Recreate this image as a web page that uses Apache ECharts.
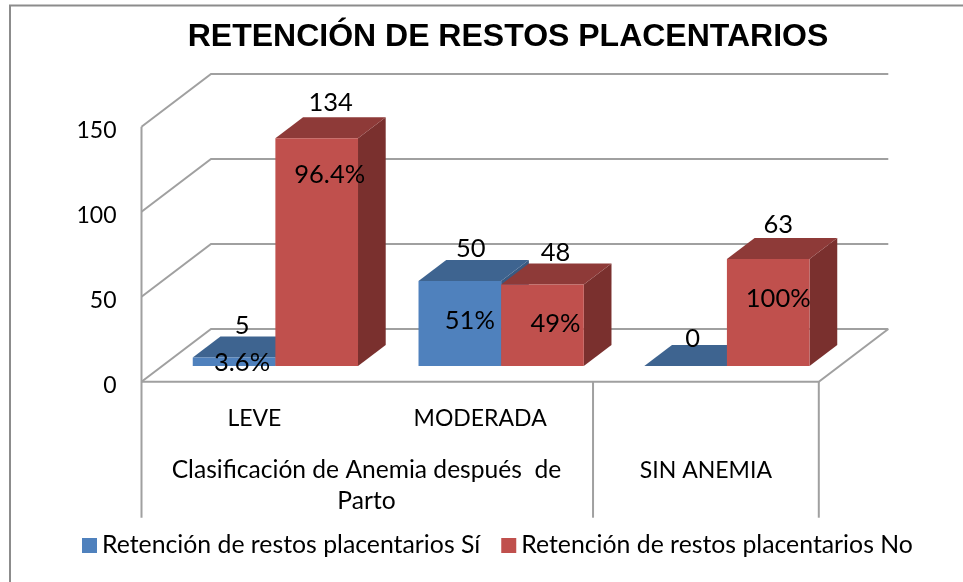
<!DOCTYPE html>
<html>
<head>
<meta charset="utf-8">
<style>html,body{margin:0;padding:0;background:#fff}#c{width:963px;height:582px}</style>
<script src="https://cdn.jsdelivr.net/npm/echarts@6/dist/echarts.min.js"></script>
</head>
<body>
<div id="c"></div>
<script>
const categories = ['LEVE', 'MODERADA', 'SIN ANEMIA'];
const groupLines = ['Clasificación de Anemia después  de', 'Parto'];
const yTicks = [0, 50, 100, 150];
const seriesSi = [5, 50, 0];
const seriesNo = [134, 48, 63];
const pctSi = ['3.6%', '51%', ''];
const pctNo = ['96.4%', '49%', '100%'];
const nameSi = 'Retención de restos placentarios Sí';
const nameNo = 'Retención de restos placentarios No';

const FONT = 'Lato';
const wallShift = [69.5, -52.7];
const barShift = [21, -15.7];
const depth = [27.7, -21];
const barRatio = 0.366;
const grey = '#a0a0a0';
// label nudges relative to the top-centre of each bar's front face
const valueNudgeSi = [[8, -32], [11, -32], [7, -27]];
const valueNudgeNo = [[14, -35], [13, -32], [10, -34]];
const pctNudgeSi = [[8, 5], [10, 40], [0, 0]];
const pctNudgeNo = [[13, 37], [13, 39], [10, 40]];

function poly(points, fill) {
  return { type: 'polygon', shape: { points }, style: { fill, stroke: null } };
}
function label(text, x, y) {
  return { type: 'text', z2: 50, style: { text, x, y, font: '25.5px ' + FONT, fill: '#000', align: 'center', verticalAlign: 'middle' } };
}
function barRenderer(side, colors, pct, valueNudge, pctNudge) {
  return function (params, api) {
    const i = api.value(0), v = api.value(1);
    const band = api.size([1, 0])[0];
    const w = band * barRatio;
    const base = api.coord([i, 0]);
    const top = api.coord([i, v]);
    const x0 = base[0] + barShift[0] + (side === 0 ? -w : 0);
    const x1 = x0 + w;
    const yB = base[1] + barShift[1];
    const yT = top[1] + barShift[1];
    const dx = depth[0], dy = depth[1];
    const cx = (x0 + x1) / 2;
    const children = [
      poly([[x1, yB], [x1 + dx, yB + dy], [x1 + dx, yT + dy], [x1, yT]], colors.side),
      poly([[x0, yT], [x1, yT], [x1 + dx, yT + dy], [x0 + dx, yT + dy]], colors.top),
      poly([[x0, yB], [x1, yB], [x1, yT], [x0, yT]], colors.front),
      label(String(v), cx + valueNudge[i][0], yT + valueNudge[i][1])
    ];
    if (pct[i]) children.push(label(pct[i], cx + pctNudge[i][0], yT + pctNudge[i][1]));
    return { type: 'group', children };
  };
}
function wallRenderer(params, api) {
  const band = api.size([1, 0])[0];
  const children = [];
  const line = (pts) => ({ type: 'polyline', shape: { points: pts }, style: { stroke: grey, lineWidth: 2, fill: null } });
  const left = api.coord([0, 0])[0] - band / 2;
  const right = api.coord([2, 0])[0] + band / 2;
  yTicks.forEach(t => {
    const y = api.coord([0, t])[1];
    children.push(line([[left, y], [left + wallShift[0], y + wallShift[1]], [right + wallShift[0], y + wallShift[1]]]));
  });
  const yTop = api.coord([0, yTicks[yTicks.length - 1]])[1];
  const y0 = api.coord([0, 0])[1];
  const yEnd = y0 + 136;
  const sep = left + band * 2;
  children.push(line([[left, yTop], [left, yEnd]]));
  children.push(line([[sep, y0], [sep, yEnd]]));
  children.push(line([[right, y0], [right, yEnd]]));
  children.push(line([[left, y0], [right, y0], [right + wallShift[0], y0 + wallShift[1]]]));
  groupLines.forEach((s, k) => {
    children.push({ type: 'text', style: { text: s, x: left + band - 0.8, y: y0 + 88.5 + k * 31, font: '24.6px ' + FONT, fill: '#000', align: 'center', verticalAlign: 'middle' } });
  });
  return { type: 'group', children };
}

const chart = echarts.init(document.getElementById('c'), null, { renderer: 'canvas' });
chart.setOption({
  animation: false,
  backgroundColor: '#fff',
  title: {
    text: 'RETENCIÓN DE RESTOS PLACENTARIOS',
    left: 503, top: 16, textAlign: 'center',
    textStyle: { fontFamily: 'Liberation Sans', fontWeight: 'bold', fontSize: 32, color: '#000' }
  },
  legend: {
    left: 77, top: 528,
    data: [{ name: nameSi, icon: 'rect' }, { name: nameNo, icon: 'rect' }],
    itemWidth: 15, itemHeight: 15, itemGap: 21,
    textStyle: { fontFamily: FONT, fontSize: 24.8, color: '#000' }
  },
  grid: { left: 141.5, top: 126.7, width: 677.3, height: 255 },
  xAxis: {
    type: 'category', data: categories,
    axisLine: { show: false }, axisTick: { show: false }, splitLine: { show: false },
    axisLabel: {
      interval: 0, margin: 25, fontFamily: FONT, fontSize: 23, color: '#000', verticalAlign: 'top',
      formatter: (v, i) => i === 2 ? '{s|' + v + '}' : v,
      rich: { s: { padding: [52, 0, 0, 0], fontFamily: FONT, fontSize: 23, color: '#000' } }
    }
  },
  yAxis: {
    type: 'value', min: 0, max: 150, interval: 50,
    axisLine: { show: false }, axisTick: { show: false }, splitLine: { show: false },
    axisLabel: {
      margin: 25, fontFamily: FONT, fontSize: 23, color: '#000',
      formatter: (v) => '{n|' + v + '}',
      rich: { n: { padding: [7, 0, 0, 0], fontFamily: FONT, fontSize: 23, color: '#000' } }
    }
  },
  graphic: [{
    type: 'polyline', silent: true,
    shape: { points: [[10, 582], [10, 5.5], [963, 5.5]] },
    style: { stroke: '#8c8c8c', lineWidth: 2, fill: null }
  }],
  series: [
    { type: 'custom', name: 'walls', z: 1, silent: true, renderItem: wallRenderer, data: [[0, 0]], encode: { x: 0, y: 1 } },
    {
      type: 'custom', name: nameSi, z: 2, itemStyle: { color: '#4f81bd' },
      renderItem: barRenderer(0, { front: '#4f81bd', top: '#3e6490', side: '#385a82' }, pctSi, valueNudgeSi, pctNudgeSi),
      data: seriesSi.map((v, i) => [i, v]), encode: { x: 0, y: 1 }
    },
    {
      type: 'custom', name: nameNo, z: 3, itemStyle: { color: '#c0504d' },
      renderItem: barRenderer(1, { front: '#c0504d', top: '#8e3a38', side: '#7a302e' }, pctNo, valueNudgeNo, pctNudgeNo),
      data: seriesNo.map((v, i) => [i, v]), encode: { x: 0, y: 1 }
    }
  ]
});
</script>
</body>
</html>
